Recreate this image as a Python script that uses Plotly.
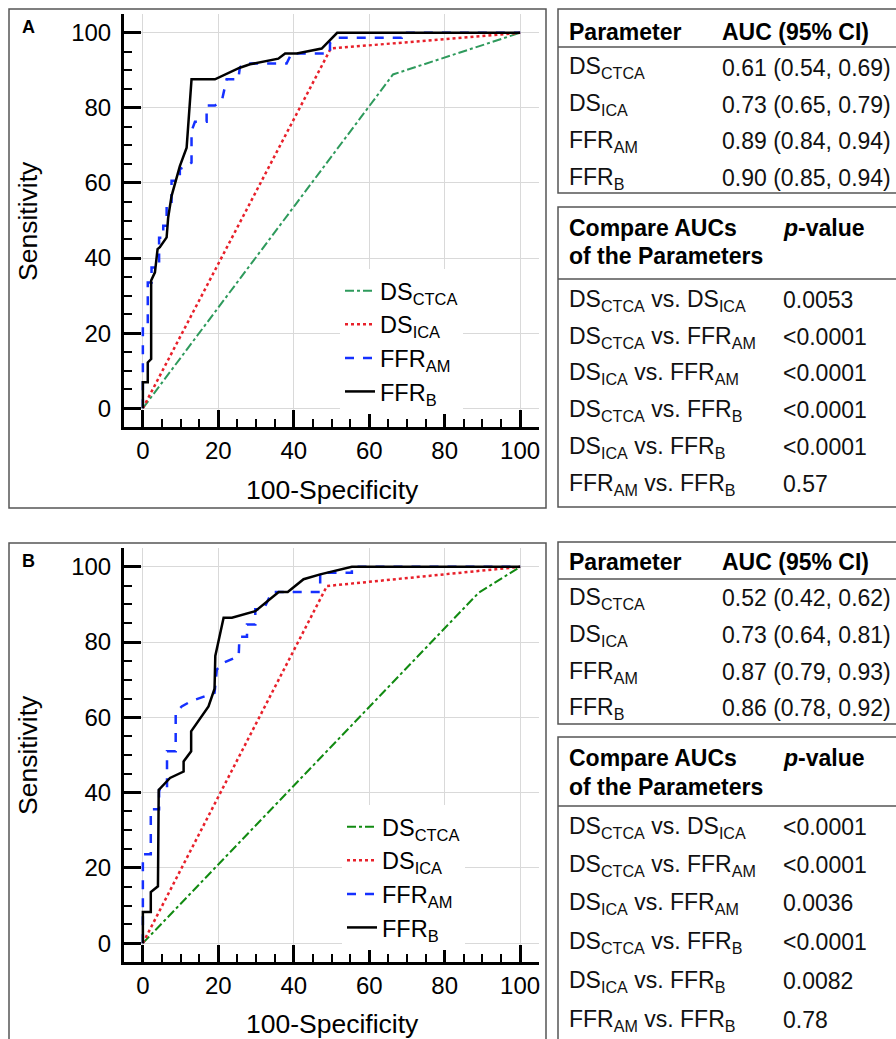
import plotly.graph_objects as go

# ---------------- DATA ----------------
series_names = ["DS<sub>CTCA</sub>", "DS<sub>ICA</sub>", "FFR<sub>AM</sub>", "FFR<sub>B</sub>"]

# Panel A ROC curves (100-Specificity, Sensitivity)
a_ctca_x = [0, 66.3, 100]
a_ctca_y = [0, 88.9, 100]
a_ica_x = [0, 49.8, 100]
a_ica_y = [0, 95.8, 100]
a_am_x = [0, 0, 1.3, 1.3, 2.3, 2.3, 4.3, 4.3, 5.4, 5.4, 6.3, 6.3, 7.6, 7.6, 9.8, 9.8, 11.6, 12.9,
          12.9, 13.8, 15.1, 16.9, 16.9, 19.1, 21.0, 22.2, 25.3, 25.7, 26.6, 38.1, 39.4, 49.6, 49.6,
          51.8, 68.6, 68.6, 100]
a_am_y = [0, 22, 22, 33.5, 33.5, 37.5, 37.5, 45.4, 45.4, 48.6, 48.6, 54.5, 54.5, 60.6, 60.6, 63.7, 64.5, 65.4,
          73.8, 76.3, 76.3, 76.3, 80.6, 80.6, 82.2, 87.6, 87.6, 90.7, 91.8, 91.8, 94.5, 94.5, 97.3,
          98.7, 98.7, 100, 100]
a_b_x = [0, 0, 1.3, 1.3, 2.2, 2.2, 3.2, 3.9, 4.5, 6.3, 6.7, 7.6, 9.8, 11.6, 12.9, 19.1, 25.7, 28.4,
         35.9, 37.7, 40.8, 47.4, 51.5, 100]
a_b_y = [0, 6.9, 6.9, 12.2, 13.1, 34.0, 36.2, 42.4, 42.9, 45.5, 50.7, 56.5, 64.5, 69.4, 87.6, 87.6, 90.7, 91.6,
         93.1, 94.5, 94.5, 95.8, 100, 100]

# Panel B ROC curves
b_ctca_x = [0, 89.0, 100]
b_ctca_y = [0, 93.1, 100]
b_ica_x = [0, 48.8, 100]
b_ica_y = [0, 94.9, 100]
b_am_x = [0, 0, 2.1, 2.1, 4.3, 4.3, 6.4, 6.4, 8.7, 8.7, 10.3, 12.8, 19.0, 19.6, 21.4, 25.4, 25.6, 27.6,
          27.6, 29.8, 29.8, 32.0, 34.2, 47.0, 47.0, 55.4, 55.4, 100]
b_am_y = [0, 23.6, 23.6, 35.6, 35.6, 40.7, 40.7, 51.0, 51.0, 61.2, 62.9, 64.3, 66.5, 72.7, 74.5, 76.3, 81.4, 81.4,
          84.7, 84.7, 88.7, 88.7, 93.3, 93.3, 98.4, 98.4, 100, 100]
b_b_x = [0, 0, 2.1, 2.1, 4.0, 4.2, 7.2, 10.8, 10.8, 12.8, 12.8, 17.4, 19.0, 19.2, 21.4, 23.6, 29.8, 36.0,
         38.4, 42.6, 47.0, 55.4, 100]
b_b_y = [0, 8.3, 8.3, 13.6, 15.1, 40.7, 43.9, 45.6, 48.3, 51.0, 56.3, 62.9, 67.6, 76.3, 86.5, 86.5, 88.2, 93.3,
         93.3, 96.7, 98.0, 100, 100]

tick_vals = [0, 20, 40, 60, 80, 100]
minor_vals = [5, 10, 15, 25, 30, 35, 45, 50, 55, 65, 70, 75, 85, 90, 95]

# Tables
table_header = ["Parameter", "AUC (95% CI)"]
auc_a = ["0.61 (0.54, 0.69)", "0.73 (0.65, 0.79)", "0.89 (0.84, 0.94)", "0.90 (0.85, 0.94)"]
auc_b = ["0.52 (0.42, 0.62)", "0.73 (0.64, 0.81)", "0.87 (0.79, 0.93)", "0.86 (0.78, 0.92)"]
comparisons = ["DS<sub>CTCA</sub> vs. DS<sub>ICA</sub>", "DS<sub>CTCA</sub> vs. FFR<sub>AM</sub>",
               "DS<sub>ICA</sub> vs. FFR<sub>AM</sub>", "DS<sub>CTCA</sub> vs. FFR<sub>B</sub>",
               "DS<sub>ICA</sub> vs. FFR<sub>B</sub>", "FFR<sub>AM</sub> vs. FFR<sub>B</sub>"]
p_a = ["0.0053", "&lt;0.0001", "&lt;0.0001", "&lt;0.0001", "&lt;0.0001", "0.57"]
p_b = ["&lt;0.0001", "&lt;0.0001", "0.0036", "&lt;0.0001", "0.0082", "0.78"]

# ---------------- LAYOUT HELPERS ----------------
W, H = 896, 1039
FONT = "Liberation Sans, Arial, sans-serif"


def X(p):
    return p / W


def Y(p):
    return 1 - p / H


styles = [
    dict(dash="dashdot", width=2),
    dict(color="#e8202a", dash="dot", width=2.5),
    dict(color="#1530ff", dash="dash", width=2.5),
    dict(color="#000000", dash="solid", width=2.5),
]
green_a = "#2e9a5c"
green_b = "#118a11"

fig = go.Figure()
panel_data = [
    ("x", "y", "legend", [(a_ctca_x, a_ctca_y), (a_ica_x, a_ica_y), (a_am_x, a_am_y), (a_b_x, a_b_y)], green_a),
    ("x2", "y2", "legend2", [(b_ctca_x, b_ctca_y), (b_ica_x, b_ica_y), (b_am_x, b_am_y), (b_b_x, b_b_y)], green_b),
]
for xa, ya, lg, curves, green in panel_data:
    for i, (cx, cy) in enumerate(curves):
        st = dict(styles[i])
        if i == 0:
            st["color"] = green
        fig.add_trace(go.Scatter(x=cx, y=cy, mode="lines", name=series_names[i], line=st,
                                 xaxis=xa, yaxis=ya, legend=lg, showlegend=True))

axis_common = dict(
    range=[-5, 105], tickvals=tick_vals, ticks="inside", ticklen=17, tickwidth=2.5, tickcolor="black",
    minor=dict(tickvals=minor_vals, ticks="inside", ticklen=8, tickwidth=2, tickcolor="black", showgrid=False),
    showline=True, linewidth=3, linecolor="black", showgrid=True, gridcolor="#d9d9d9", gridwidth=1,
    zeroline=False, tickfont=dict(size=24, family=FONT, color="black"), fixedrange=True,
)
xdom = [X(124), X(539)]
fig.update_layout(
    xaxis=dict(domain=xdom, anchor="y", ticklabelstandoff=0, **axis_common),
    yaxis=dict(domain=[Y(427), Y(14)], anchor="x", ticklabelstandoff=5, **axis_common),
    xaxis2=dict(domain=xdom, anchor="y2", ticklabelstandoff=0, **axis_common),
    yaxis2=dict(domain=[Y(962), Y(548)], anchor="x2", ticklabelstandoff=5, **axis_common),
)

legend_common = dict(xanchor="left", yanchor="top", bgcolor="white", borderwidth=0,
                     font=dict(size=23.5, family=FONT, color="black"), tracegroupgap=0)
fig.update_layout(
    legend=dict(x=X(340), y=Y(269), **legend_common),
    legend2=dict(x=X(342), y=Y(805), **legend_common),
)

shapes = []
annotations = []
line_col = "#555555"


def rect(x0, y0, x1, y1, w=1.5):
    shapes.append(dict(type="rect", xref="paper", yref="paper", x0=X(x0), x1=X(x1), y0=Y(y0), y1=Y(y1),
                       line=dict(color=line_col, width=w), fillcolor="rgba(0,0,0,0)", layer="below"))


def hline(x0, x1, yy, w=1.5):
    shapes.append(dict(type="line", xref="paper", yref="paper", x0=X(x0), x1=X(x1), y0=Y(yy), y1=Y(yy),
                       line=dict(color=line_col, width=w)))


def txt(x, y, s, size=23, bold=False, anchor="left", angle=0, color="#111111"):
    if bold:
        s = "<b>" + s + "</b>"
    annotations.append(dict(xref="paper", yref="paper", x=X(x), y=Y(y), text=s, showarrow=False,
                            xanchor=anchor, yanchor="middle", textangle=angle,
                            font=dict(size=size, family=FONT, color=color)))


# panels
for off, label in [(0, "A"), (534, "B")]:
    rect(9, 9 + off, 546, 508 + off if off == 0 else 1060)
    txt(20, 27 + off, label, size=18, bold=True, color="black")
    txt(28, 221 + off, "Sensitivity", size=26.5, anchor="center", angle=-90, color="black")
    txt(332, 490 + off, "100-Specificity", size=26.5, anchor="center", color="black")

# tables
tables = [
    dict(t1=(9, 193, 47), hdr=32, rows=[68, 105, 141, 178], auc=auc_a,
         t2=(207, 507, 279), h2=(228, 256), rows2=[300, 337, 373, 410, 447, 484], p=p_a),
    dict(t1=(542, 724, 579), hdr=562, rows=[598, 635, 672, 708], auc=auc_b,
         t2=(737, 1060, 806), h2=(758, 787), rows2=[827, 865, 903, 942, 981, 1020], p=p_b),
]
for tb in tables:
    top, bot, hl = tb["t1"]
    rect(558, top, 910, bot)
    hline(558, 910, hl)
    txt(567, tb["hdr"], table_header[0], bold=True, color="black")
    txt(720, tb["hdr"], table_header[1], bold=True, color="black")
    for name, val, ry in zip(series_names, tb["auc"], tb["rows"]):
        txt(567, ry, name)
        txt(720, ry, val)
    top, bot, hl = tb["t2"]
    rect(558, top, 910, bot)
    hline(558, 910, hl)
    txt(567, tb["h2"][0], "Compare AUCs", bold=True, color="black")
    txt(567, tb["h2"][1], "of the Parameters", bold=True, color="black")
    txt(781, tb["h2"][0], "<i>p</i>-value", bold=True, color="black")
    for comp, pv, ry in zip(comparisons, tb["p"], tb["rows2"]):
        txt(567, ry, comp)
        txt(781, ry, pv)

fig.update_layout(
    width=W, height=H, margin=dict(l=0, r=0, t=0, b=0),
    paper_bgcolor="white", plot_bgcolor="white",
    shapes=shapes, annotations=annotations,
    font=dict(family=FONT, color="black"),
)

fig.write_html("out.html", config={"displayModeBar": False},
               post_script="document.body.style.margin='0px';document.body.style.overflow='hidden';")
